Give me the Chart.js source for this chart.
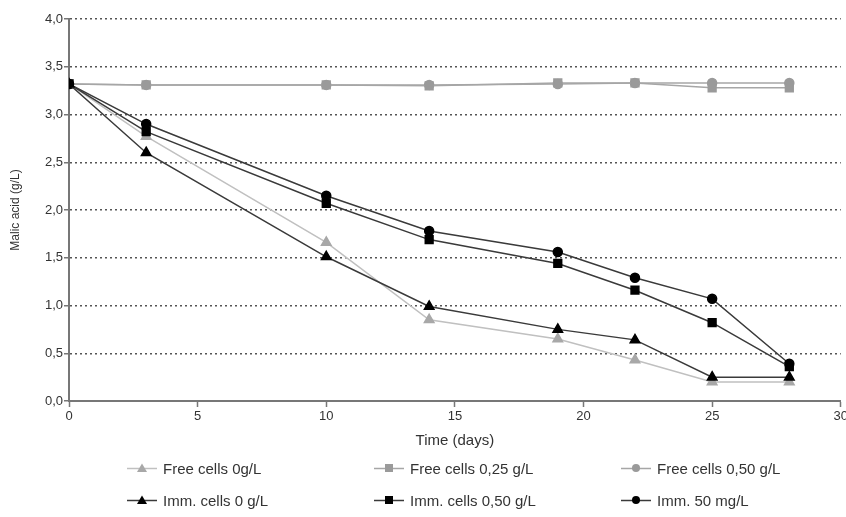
<!DOCTYPE html>
<html>
<head>
<meta charset="utf-8">
<script src="https://cdn.jsdelivr.net/npm/chart.js@4/dist/chart.umd.min.js"></script>
<style>
  html, body { margin: 0; padding: 0; background: #fff; overflow: hidden; }
  #wrap { position: relative; width: 846px; height: 517px; overflow: hidden; }
  #legend { position: absolute; left: 0; top: 0; width: 846px; height: 517px; pointer-events: none;
            font-family: 'Liberation Sans', Arial, sans-serif; font-size: 15px; color: #333; }
  .item { position: absolute; display: flex; align-items: center; height: 20px; white-space: nowrap; }
  .item svg { margin-right: 6px; }
</style>
</head>
<body>
<div id="wrap">
  <canvas id="chart" width="850" height="517"></canvas>
  <div id="legend"></div>
</div>
<script>
// jours de prélèvement
const days = [0, 3, 10, 14, 19, 22, 25, 28];

// acide malique (g/L)
const freeCells0 = [3.32, 2.77, 1.66, 0.85, 0.65, 0.43, 0.20, 0.20];
const freeCells025 = [3.32, 3.31, 3.31, 3.30, 3.33, 3.33, 3.28, 3.28];
const freeCells050 = [3.32, 3.31, 3.31, 3.31, 3.32, 3.33, 3.33, 3.33];
const immCells0 = [3.32, 2.60, 1.51, 0.99, 0.75, 0.64, 0.25, 0.25];
const immCells050 = [3.32, 2.82, 2.07, 1.69, 1.44, 1.16, 0.82, 0.36];
const imm50mg = [3.32, 2.90, 2.15, 1.78, 1.56, 1.29, 1.07, 0.39];

const seriesLabels = ['Free cells 0g/L', 'Free cells 0,25 g/L', 'Free cells 0,50 g/L',
                      'Imm. cells 0 g/L', 'Imm. cells 0,50 g/L', 'Imm. 50 mg/L'];

const FONT = "'Liberation Sans', Arial, sans-serif";

function toPoints(values) {
    return values.map((v, i) => ({ x: days[i], y: v }));
}

const styles = [
    { line: '#c0c0c0', fill: '#a8a8a8', shape: 'triangle', r: 5.5 },
    { line: '#a6a6a6', fill: '#9a9a9a', shape: 'rect', r: 5.5 },
    { line: '#a6a6a6', fill: '#9a9a9a', shape: 'circle', r: 4.5 },
    { line: '#3a3a3a', fill: '#000', shape: 'triangle', r: 5.5 },
    { line: '#3a3a3a', fill: '#000', shape: 'rect', r: 5.5 },
    { line: '#3a3a3a', fill: '#000', shape: 'circle', r: 4.5 }
];

const allValues = [freeCells0, freeCells025, freeCells050, immCells0, immCells050, imm50mg];

const datasets = allValues.map((vals, i) => ({
    label: seriesLabels[i],
    data: toPoints(vals),
    borderColor: styles[i].line,
    backgroundColor: styles[i].fill,
    pointBackgroundColor: styles[i].fill,
    pointBorderColor: styles[i].fill,
    pointStyle: styles[i].shape,
    pointRadius: styles[i].r,
    borderWidth: 1.5,
    tension: 0,
    order: i < 3 ? 2 : 1
}));

new Chart(document.getElementById('chart').getContext('2d'), {
    type: 'line',
    data: { datasets },
    options: {
        responsive: false,
        animation: false,
        layout: { padding: { top: 19, right: 0, bottom: 66, left: 0 } },
        plugins: { legend: { display: false }, tooltip: { enabled: false } },
        scales: {
            x: {
                type: 'linear',
                min: 0, max: 30,
                ticks: { stepSize: 5, color: '#333', font: { family: FONT, size: 13 }, padding: 2, maxRotation: 0 },
                grid: { drawOnChartArea: false, drawTicks: true, tickLength: 6, tickColor: '#777', tickWidth: 1.5 },
                border: { color: '#777', width: 2 },
                title: { display: true, text: 'Time (days)', color: '#333', font: { family: FONT, size: 15 }, padding: { top: 0, bottom: 1 } },
                afterFit: (s) => { s.height = 50; }
            },
            y: {
                min: 0, max: 4,
                ticks: {
                    stepSize: 0.5, color: '#333', font: { family: FONT, size: 13 }, padding: 1,
                    callback: (v) => v.toFixed(1).replace('.', ',')
                },
                grid: {
                    color: (ctx) => ctx.tick && ctx.tick.value === 0 ? 'rgba(0,0,0,0)' : '#555',
                    lineWidth: 1.5,
                    tickColor: '#777', tickWidth: 1.5, tickLength: 5, tickBorderDash: []
                },
                border: { color: '#777', width: 2, dash: [2, 3] },
                title: { display: true, text: 'Malic acid (g/L)', color: '#333', font: { family: FONT, size: 12 }, padding: { top: 8, bottom: 0 } },
                afterFit: (s) => { s.width = 69; }
            }
        }
    }
});

// légende en trois colonnes
const legendPos = [
    [127, 468], [374, 468], [621, 468],
    [127, 500], [374, 500], [621, 500]
];

function markerSvg(st) {
    let shape = '';
    if (st.shape === 'triangle') shape = `<polygon points="15,1.5 20,10 10,10" fill="${st.fill}"/>`;
    else if (st.shape === 'rect') shape = `<rect x="11" y="2" width="8" height="8" fill="${st.fill}"/>`;
    else shape = `<circle cx="15" cy="6" r="4" fill="${st.fill}"/>`;
    return `<svg width="30" height="12"><line x1="0" y1="6.5" x2="30" y2="6.5" stroke="${st.line}" stroke-width="1.5"/>${shape}</svg>`;
}

const legend = document.getElementById('legend');
seriesLabels.forEach((label, i) => {
    const el = document.createElement('div');
    el.className = 'item';
    el.style.left = legendPos[i][0] + 'px';
    el.style.top = (legendPos[i][1] - 10) + 'px';
    el.innerHTML = markerSvg(styles[i]) + '<span>' + label + '</span>';
    legend.appendChild(el);
});
</script>
</body>
</html>
